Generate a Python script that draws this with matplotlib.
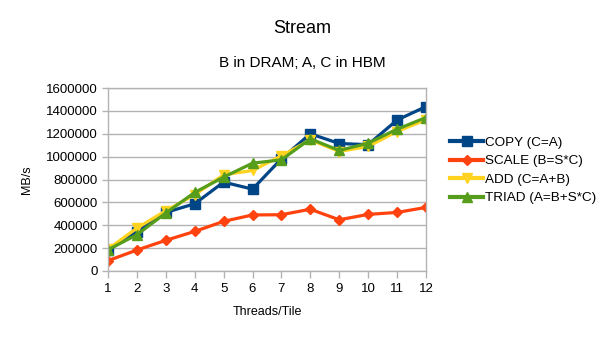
import matplotlib
matplotlib.use("Agg")
import matplotlib.pyplot as plt
from matplotlib.ticker import FuncFormatter

threads = [1, 2, 3, 4, 5, 6, 7, 8, 9, 10, 11, 12]
copy_bw = [180000, 345000, 512000, 588000, 777000, 716000, 981000, 1200000, 1115000, 1105000, 1320000, 1438000]
scale_bw = [90000, 183000, 268000, 346000, 434000, 490000, 492000, 540000, 448000, 495000, 512000, 556000]
add_bw = [192000, 375000, 527000, 667000, 841000, 879000, 1007000, 1147000, 1045000, 1089000, 1220000, 1322000]
triad_bw = [186000, 317000, 507000, 687000, 821000, 943000, 972000, 1156000, 1054000, 1118000, 1240000, 1342000]

series = [
    ("COPY (C=A)", copy_bw, "#004586", "s", 7),
    ("SCALE (B=S*C)", scale_bw, "#ff420e", "D", 5.5),
    ("ADD (C=A+B)", add_bw, "#ffd320", "v", 7.5),
    ("TRIAD (A=B+S*C)", triad_bw, "#579d1c", "^", 7.5),
]

plt.rcParams["font.family"] = ["Liberation Sans", "DejaVu Sans"]
fig = plt.figure(figsize=(6.05, 3.4), dpi=100)
ax = fig.add_axes([0.1785, 0.203, 0.5255, 0.538])

for label, vals, color, marker, ms in series:
    ax.plot(threads, vals, color=color, marker=marker, markersize=ms,
            linewidth=2.3, label=label, markeredgecolor=color)

ax.set_xlim(1, 12)
ax.set_ylim(0, 1600000)
ax.set_xticks(threads)
ax.set_yticks(range(0, 1600001, 200000))
ax.yaxis.set_major_formatter(FuncFormatter(lambda v, p: f"{int(v)}"))
ax.yaxis.grid(True, color="#b3b3b3", linewidth=1)
ax.set_axisbelow(True)
for sp in ax.spines.values():
    sp.set_color("#b3b3b3")
    sp.set_linewidth(1)
ax.tick_params(axis="both", colors="#b3b3b3", labelcolor="black", labelsize=9.5, length=5, width=1)
ax.tick_params(axis="y", length=4)

ax.set_xlabel("Threads/Tile", fontsize=9, labelpad=8)
ax.set_ylabel("MB/s", fontsize=9)
ax.yaxis.set_label_coords(-0.235, 0.5)

fig.text(0.5, 0.915, "Stream", ha="center", va="center", fontsize=13)
fig.text(0.5, 0.815, "B in DRAM; A, C in HBM", ha="center", va="center", fontsize=11)

leg = ax.legend(loc="center left", bbox_to_anchor=(1.06, 0.55), frameon=False,
                fontsize=9.7, handlelength=2.4, handletextpad=0.2, labelspacing=0.45,
                borderaxespad=0)
for h in leg.get_lines():
    h.set_linewidth(3)

fig.savefig("out.png", dpi=100)
